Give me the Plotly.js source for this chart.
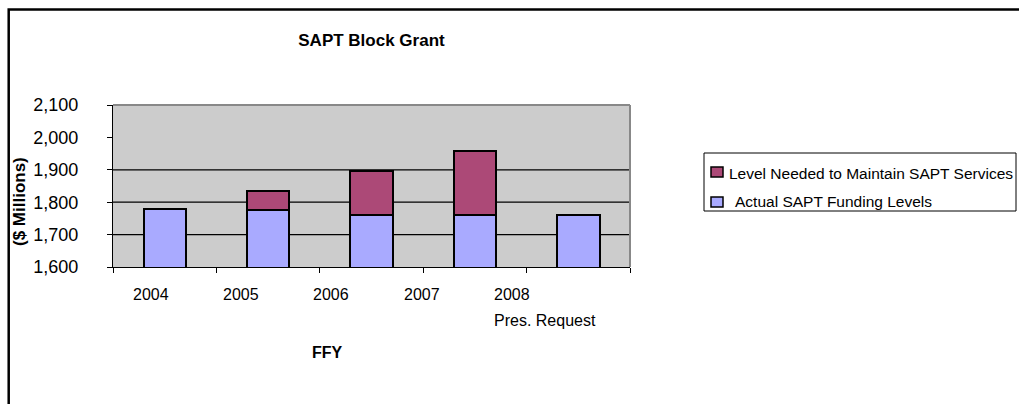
<!DOCTYPE html>
<html>
<head>
<meta charset="utf-8">
<script src="https://cdn.plot.ly/plotly-3.0.1.min.js"></script>
<style>html,body{margin:0;padding:0;background:#fff;}#chart{width:1019px;height:404px;}</style>
</head>
<body>
<div id="chart"></div>
<script>
// ---- data ----
const categories = ["2004", "2005", "2006", "2007", "2008"];
const tickLabels = ["2004", "2005", "2006", "2007", "2008"];
const tickSubLabels = ["", "", "", "", "Pres. Request"];
const actualFunding = [1779, 1776, 1759, 1759, 1759];          // Actual SAPT Funding Levels ($M)
const levelNeeded = [null, 1835, 1895, 1957, null];             // Level Needed to Maintain SAPT Services ($M)
const gridValues = [1700, 1800, 1900];
const seriesNames = ["Level Needed to Maintain SAPT Services", "Actual SAPT Funding Levels"];

// ---- layout helpers (pixel -> paper) ----
const L = 113, R = 630, T = 105, B = 267;
const px = x => (x - L) / (R - L);
const py = y => (B - y) / (B - T);
const FONT = "Arial, 'Liberation Sans', sans-serif";
const BLUE = "#A9AAFF", MAROON = "#AC4977";

const gap = levelNeeded.map((v, i) => v == null ? null : v - actualFunding[i]);

const traces = [
  { type: "bar", x: categories, y: actualFunding, name: seriesNames[1], width: 0.41,
    marker: { color: BLUE, line: { color: "#000", width: 2 } }, hoverinfo: "x+y" },
  { type: "bar", x: categories, y: gap, name: seriesNames[0], width: 0.41,
    marker: { color: MAROON, line: { color: "#000", width: 2 } }, hoverinfo: "x+y" }
];

const shapes = [];
gridValues.forEach(g => shapes.push({ type: "line", xref: "paper", yref: "y", x0: 0, x1: 1, y0: g, y1: g,
  line: { color: "#000", width: 1.2 }, layer: "below" }));
// plot-area top and right border (grey)
shapes.push({ type: "line", xref: "paper", yref: "paper", x0: 0, x1: 1, y0: 1, y1: 1, line: { color: "#888", width: 2 } });
shapes.push({ type: "line", xref: "paper", yref: "paper", x0: 1, x1: 1, y0: 0, y1: 1, line: { color: "#888", width: 2 } });
// outer chart frame (open to right and bottom)
shapes.push({ type: "rect", xref: "paper", yref: "paper", x0: px(8.7), y0: py(9.5), x1: px(1060), y1: py(440),
  line: { color: "#000", width: 2.5 }, fillcolor: "rgba(0,0,0,0)" });
// legend box
shapes.push({ type: "rect", xref: "paper", yref: "paper", x0: px(704), y0: py(153), x1: px(1016), y1: py(211),
  line: { color: "#000", width: 1 }, fillcolor: "rgba(0,0,0,0)" });
// legend swatches
const legendRows = [
  { name: seriesNames[0], color: MAROON, sy0: 167, sy1: 177, ty: 173, tx: 727 },
  { name: seriesNames[1], color: BLUE, sy0: 197, sy1: 207, ty: 201, tx: 733 }
];
legendRows.forEach(r => shapes.push({ type: "rect", xref: "paper", yref: "paper", x0: px(711), x1: px(723),
  y0: py(r.sy1), y1: py(r.sy0), fillcolor: r.color, line: { color: "#000", width: 1.5 } }));

const annotations = [];
legendRows.forEach(r => annotations.push({ xref: "paper", yref: "paper", x: px(r.tx), y: py(r.ty),
  xanchor: "left", yanchor: "middle", showarrow: false, text: r.name, font: { family: FONT, size: 15.5, color: "#000" } }));
// category labels (rendered left-shifted as in the reference)
tickLabels.forEach((t, i) => {
  const left = 130.7 + i * 90.3;
  annotations.push({ xref: "paper", yref: "paper", x: px(left), y: py(294.5), xanchor: "left", yanchor: "middle",
    showarrow: false, text: t, font: { family: FONT, size: 16, color: "#000" } });
  if (tickSubLabels[i]) annotations.push({ xref: "paper", yref: "paper", x: px(left), y: py(320.5), xanchor: "left",
    yanchor: "middle", showarrow: false, text: tickSubLabels[i], font: { family: FONT, size: 16, color: "#000" } });
});
// axis titles
annotations.push({ xref: "paper", yref: "paper", x: px(327.5), y: py(352.5), xanchor: "center", yanchor: "middle",
  showarrow: false, text: "<b>FFY</b>", font: { family: FONT, size: 16, color: "#000" } });
annotations.push({ xref: "paper", yref: "paper", x: px(19), y: py(202), xanchor: "center", yanchor: "middle",
  showarrow: false, textangle: -90, text: "<b>($ Millions)</b>", font: { family: FONT, size: 17, color: "#000" } });

const layout = {
  width: 1019, height: 404, autosize: false,
  margin: { l: L, r: 1019 - R, t: T, b: 404 - B, pad: 0 },
  paper_bgcolor: "#fff", plot_bgcolor: "#CCCCCC",
  barmode: "stack", showlegend: false,
  title: { text: "<b>SAPT Block Grant</b>", xref: "paper", x: 0.5, xanchor: "center",
    y: 1 - 40 / 404, yanchor: "middle", font: { family: FONT, size: 17, color: "#000" } },
  xaxis: { type: "category", showticklabels: false, showgrid: false, zeroline: false,
    showline: true, linecolor: "#000", linewidth: 1.2, ticks: "outside", tickson: "boundaries",
    ticklen: 5, tickcolor: "#000", tickwidth: 1 },
  yaxis: { range: [1600, 2100], dtick: 100, tick0: 1600, tickformat: ",d", showgrid: false, zeroline: false,
    showline: true, linecolor: "#000", linewidth: 1.2, ticks: "outside", ticklen: 5, tickcolor: "#000",
    tickwidth: 1, ticklabelstandoff: 25, tickfont: { family: FONT, size: 18, color: "#000" } },
  shapes: shapes, annotations: annotations
};

Plotly.newPlot("chart", traces, layout, { displayModeBar: false, staticPlot: true });
</script>
</body>
</html>
